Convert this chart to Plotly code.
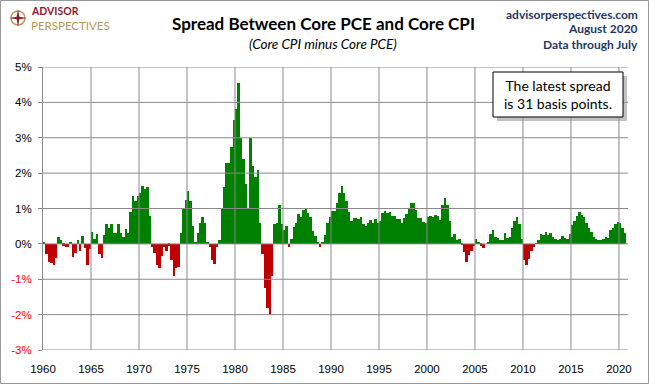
import plotly.graph_objects as go

# ---------------- data (quarterly) ----------------
first_year = 1960
spread_pct = [
    0.05, -0.30, -0.50, -0.54,   # 1960
    -0.60, -0.40, 0.20, 0.10,    # 1961
    -0.05, -0.10, -0.08, 0.05,   # 1962
    -0.38, -0.25, 0.10, -0.20,   # 1963
    0.22, -0.13, -0.60, -0.15,   # 1964
    0.34, 0.15, 0.29, -0.30,     # 1965
    -0.40, 0.26, 0.55, 0.45,     # 1966
    0.55, 0.32, 0.30, 0.55,      # 1967
    0.30, 0.20, 0.42, 0.30,      # 1968
    0.90, 1.35, 1.20, 1.35,      # 1969
    1.45, 1.65, 1.55, 1.60,      # 1970
    0.80, -0.10, -0.25, -0.60,   # 1971
    -0.68, -0.35, -0.10, -0.20,  # 1972
    -0.05, -0.45, -0.90, -0.68,  # 1973
    -0.65, 0.30, 1.00, 1.25,     # 1974
    1.50, 1.20, 0.50, 0.05,      # 1975
    0.30, 0.60, 0.75, 0.60,      # 1976
    0.05, -0.10, -0.45, -0.58,   # 1977
    -0.10, 0.10, 1.00, 1.60,     # 1978
    2.30, 2.30, 2.75, 3.50,      # 1979
    3.80, 4.55, 3.00, 2.40,      # 1980
    1.70, 1.00, 3.00, 2.20,      # 1981
    1.90, 2.10, 0.60, -0.30,     # 1982
    -1.25, -1.80, -2.00, -0.90,  # 1983
    0.55, 0.60, 1.10, 0.55,      # 1984
    0.40, 0.50, -0.10, 0.15,     # 1985
    0.48, 0.60, 0.85, 0.75,      # 1986
    0.95, 1.00, 0.88, 0.75,      # 1987
    0.35, 0.22, 0.05, -0.08,     # 1988
    0.03, 0.25, 0.60, 0.75,      # 1989
    0.92, 0.92, 1.15, 1.45,      # 1990
    1.65, 1.45, 1.22, 0.90,      # 1991
    0.65, 0.73, 0.72, 0.70,      # 1992
    0.75, 0.55, 0.50, 0.60,      # 1993
    0.68, 0.60, 0.70, 0.58,      # 1994
    0.65, 0.88, 0.92, 0.88,      # 1995
    0.90, 0.80, 0.78, 0.70,      # 1996
    0.70, 0.60, 0.72, 0.85,      # 1997
    0.98, 1.15, 1.15, 0.95,      # 1998
    0.73, 0.73, 0.63, 0.60,      # 1999
    0.75, 0.78, 0.77, 0.82,      # 2000
    0.78, 0.68, 1.10, 1.30,      # 2001
    1.10, 0.65, 0.20, 0.28,      # 2002
    0.10, 0.15, -0.03, -0.22,    # 2003
    -0.50, -0.32, -0.20, -0.07,  # 2004
    0.13, 0.06, -0.05, -0.12,    # 2005
    0.00, 0.05, 0.28, 0.38,      # 2006
    0.20, 0.18, 0.12, 0.10,      # 2007
    0.30, 0.16, 0.20, 0.45,      # 2008
    0.65, 0.76, 0.55, 0.15,      # 2009
    -0.45, -0.60, -0.42, -0.20,  # 2010
    -0.08, 0.02, 0.12, 0.27,     # 2011
    0.24, 0.34, 0.25, 0.30,      # 2012
    0.20, 0.14, 0.11, 0.14,      # 2013
    0.22, 0.18, 0.14, 0.27,      # 2014
    0.52, 0.66, 0.78, 0.90,      # 2015
    0.82, 0.75, 0.60, 0.45,      # 2016
    0.33, 0.20, 0.13, 0.12,      # 2017
    0.10, 0.14, 0.20, 0.18,      # 2018
    0.38, 0.45, 0.57, 0.63,      # 2019
    0.58, 0.45, 0.31,            # 2020 (Q3 = July)
]
x_tick_years = [1960, 1965, 1970, 1975, 1980, 1985, 1990, 1995, 2000, 2005, 2010, 2015, 2020]
x_tick_labels = [str(y) for y in x_tick_years]
y_tick_vals = [-3, -2, -1, 0, 1, 2, 3, 4, 5]
y_tick_labels = [f"{v}%" for v in y_tick_vals]
latest_bp = 31

# ---------------- figure ----------------
W, H = 649, 384
ML, MR, MT, MB = 43, 21, 67, 34
PW, PH = W - ML - MR, H - MT - MB

def px(x):
    return (x - ML) / PW

def py(y):
    return (H - MB - y) / PH

GREEN = "#008000"
RED = "#C00000"
GRID = "#8A8A8A"

quarter_x = [first_year + i * 0.25 for i in range(len(spread_pct))]
colors = [GREEN if v >= 0 else RED for v in spread_pct]

fig = go.Figure()
fig.add_trace(go.Bar(
    x=quarter_x, y=spread_pct, width=0.25, offset=0,
    marker=dict(color=colors, line=dict(width=0)),
    hoverinfo="skip", showlegend=False,
))

ytext = [t if v >= 0 else f'<span style="color:#FF0000">{t}</span>'
         for v, t in zip(y_tick_vals, y_tick_labels)]

fig.update_layout(
    width=W, height=H,
    margin=dict(l=ML, r=MR, t=MT, b=MB, pad=0),
    paper_bgcolor="white", plot_bgcolor="white",
    bargap=0,
    xaxis=dict(
        range=[1960, 2020.94], tickvals=x_tick_years, ticktext=x_tick_labels,
        showgrid=False, zeroline=False, showline=False, ticks="",
        tickfont=dict(family="Liberation Sans", size=11.5, color="black"),
        ticklabelstandoff=10, automargin=False, fixedrange=True,
    ),
    yaxis=dict(
        range=[-3, 5], tickvals=y_tick_vals, ticktext=ytext,
        showgrid=False, zeroline=False, showline=True, linecolor=GRID, linewidth=1,
        ticks="outside", ticklen=4, tickcolor=GRID, tickwidth=1,
        tickfont=dict(family="Liberation Sans", size=11.5, color="black"),
        ticklabelstandoff=4, automargin=False, fixedrange=True,
    ),
)

shapes = []
# gridlines above the bars
for v in y_tick_vals:
    shapes.append(dict(type="line", xref="paper", yref="y", x0=0, x1=1, y0=v, y1=v,
                       line=dict(color=GRID, width=1), layer="above"))
for yv in x_tick_years[1:]:
    shapes.append(dict(type="line", xref="x", yref="paper", x0=yv, x1=yv, y0=0, y1=1,
                       line=dict(color=GRID, width=1), layer="above"))
# annotation box with shadow
bx0, bx1, by0, by1 = 493, 623, 72, 117
shapes.append(dict(type="rect", xref="paper", yref="paper",
                   x0=px(bx0 + 4), x1=px(bx1 + 4), y0=py(by1 + 4), y1=py(by0 + 4),
                   fillcolor="#9A9A9A", line=dict(width=0), layer="above", opacity=0.6))
shapes.append(dict(type="rect", xref="paper", yref="paper",
                   x0=px(bx0), x1=px(bx1), y0=py(by1), y1=py(by0),
                   fillcolor="white", line=dict(color="black", width=1), layer="above"))
# outer frame
shapes.append(dict(type="rect", xref="paper", yref="paper",
                   x0=px(0.5), x1=px(W - 0.5), y0=py(H - 0.5), y1=py(0.5),
                   line=dict(color="#999999", width=1), fillcolor="rgba(0,0,0,0)", layer="above"))
# logo icon
shapes.append(dict(type="circle", xref="paper", yref="paper",
                   x0=px(11), x1=px(25), y0=py(25), y1=py(11),
                   line=dict(color="#B5985A", width=1.5), fillcolor="rgba(0,0,0,0)", layer="above"))
shapes.append(dict(type="path", xref="paper", yref="paper",
                   path=("M {a},{b} L {c},{d} L {e},{f} L {g},{h} L {i},{j} L {k},{l} L {m},{n} L {o},{p} Z").format(
                       a=px(18), b=py(9), c=px(19.3), d=py(16.7), e=px(27), f=py(18), g=px(19.3), h=py(19.3),
                       i=px(18), j=py(27), k=px(16.7), l=py(19.3), m=px(9), n=py(18), o=px(16.7), p=py(16.7)),
                   fillcolor="#8B1A2B", line=dict(width=0), layer="above"))
fig.update_layout(shapes=shapes)

ann = []
def text(x, y, s, size, color="black", bold=False, italic=False, xanchor="center", family="Lato"):
    if bold:
        s = f"<b>{s}</b>"
    if italic:
        s = f"<i>{s}</i>"
    ann.append(dict(xref="paper", yref="paper", x=px(x), y=py(y), text=s, showarrow=False,
                    xanchor=xanchor, yanchor="middle",
                    font=dict(family=family, size=size, color=color)))

text(323, 23, "Spread Between Core PCE and Core CPI", 17, bold=True)
text(323, 44, "(Core CPI minus Core PCE)", 13.5, italic=True)
text(640, 14, "advisorperspectives.com", 12, color="#1F3864", bold=True, xanchor="right")
text(640, 29, "August 2020", 12, color="#1F3864", bold=True, xanchor="right")
text(640, 44, "Data through July", 12, color="#1F3864", bold=True, xanchor="right")
# logo words
text(29, 11, "ADVISOR", 10.5, color="#8B1A2B", bold=True, xanchor="left")
text(28.5, 25, "PERSPECTIVES", 11.5, color="#B5985A", xanchor="left")
ann.append(dict(xref="paper", yref="paper", x=px((bx0 + bx1) / 2), y=py((by0 + by1) / 2),
                text=f"The latest spread<br>is {latest_bp} basis points.", showarrow=False,
                xanchor="center", yanchor="middle", align="center",
                font=dict(family="Lato", size=14, color="black")))
fig.update_layout(annotations=ann)

fig.write_html("out.html", config={"displayModeBar": False},
               post_script="document.body.style.margin='0px';document.body.style.overflow='hidden';")
